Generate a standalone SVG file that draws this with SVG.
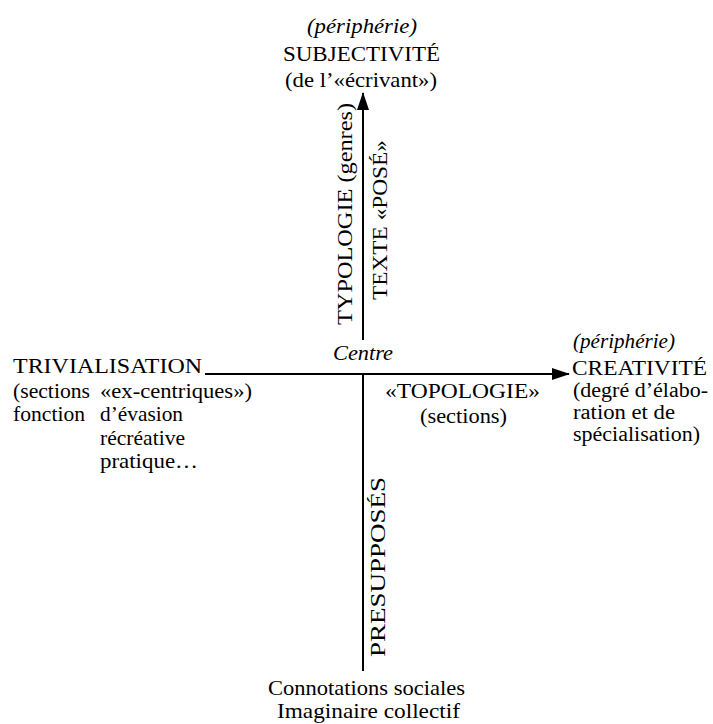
<svg xmlns="http://www.w3.org/2000/svg" width="713" height="724" viewBox="0 0 713 724">
<style>
text { font-family: "Liberation Serif", "DejaVu Serif", serif; font-size: 22px; fill: #000; }
.it { font-style: italic; font-size: 20px; }
.rc { font-size: 20px; }
.ax { stroke: #000; stroke-width: 2; fill: none; }
</style>
<defs>
<marker id="arr" markerUnits="userSpaceOnUse" markerWidth="18" markerHeight="12" refX="17" refY="6" orient="auto">
<path d="M0,0 L18,6 L0,12 z" fill="#000"/>
</marker>
</defs>
<rect width="713" height="724" fill="#fff"/>
<g id="connectors">
<line class="ax" x1="363" y1="340" x2="363" y2="93" marker-end="url(#arr)"/>
<line class="ax" x1="205" y1="374" x2="569" y2="374" marker-end="url(#arr)"/>
<line class="ax" x1="363" y1="374" x2="363" y2="671"/>
</g>
<g id="node-subjectivite">
<text class="it" x="307" y="33" textLength="110" lengthAdjust="spacingAndGlyphs">(périphérie)</text>
<text x="283" y="61" textLength="157" lengthAdjust="spacingAndGlyphs">SUBJECTIVITÉ</text>
<text x="285" y="87" textLength="152" lengthAdjust="spacingAndGlyphs">(de l’«écrivant»)</text>
</g>
<g id="label-typologie">
<text transform="translate(352,325) rotate(-90)" font-size="21" textLength="222" lengthAdjust="spacingAndGlyphs">TYPOLOGIE (genres)</text>
</g>
<g id="label-texte-pose">
<text transform="translate(387,300) rotate(-90)" font-size="21" textLength="160" lengthAdjust="spacingAndGlyphs">TEXTE «POSÉ»</text>
</g>
<g id="node-centre">
<text class="it" x="333" y="360" textLength="60" lengthAdjust="spacingAndGlyphs">Centre</text>
</g>
<g id="node-trivialisation">
<text x="13" y="373" font-size="23" textLength="189" lengthAdjust="spacingAndGlyphs">TRIVIALISATION</text>
<text x="13" y="398" textLength="77" lengthAdjust="spacingAndGlyphs">(sections</text>
<text x="100" y="398" textLength="152" lengthAdjust="spacingAndGlyphs">«ex-centriques»)</text>
<text x="13" y="421" textLength="72" lengthAdjust="spacingAndGlyphs">fonction</text>
<text x="100" y="421" textLength="83" lengthAdjust="spacingAndGlyphs">d’évasion</text>
<text x="100" y="445" textLength="85" lengthAdjust="spacingAndGlyphs">récréative</text>
<text x="100" y="468" textLength="98" lengthAdjust="spacingAndGlyphs">pratique…</text>
</g>
<g id="label-topologie">
<text x="385" y="398" textLength="155" lengthAdjust="spacingAndGlyphs">«TOPOLOGIE»</text>
<text x="420" y="423" textLength="87" lengthAdjust="spacingAndGlyphs">(sections)</text>
</g>
<g id="node-creativite">
<text class="it" x="573" y="348" textLength="102" lengthAdjust="spacingAndGlyphs">(périphérie)</text>
<text class="rc" x="572" y="375" textLength="135" lengthAdjust="spacingAndGlyphs">CREATIVITÉ</text>
<text class="rc" x="573" y="397" textLength="135" lengthAdjust="spacingAndGlyphs">(degré d’élabo-</text>
<text class="rc" x="573" y="419" textLength="102" lengthAdjust="spacingAndGlyphs">ration et de</text>
<text class="rc" x="573" y="441" textLength="127" lengthAdjust="spacingAndGlyphs">spécialisation)</text>
</g>
<g id="label-presupposes">
<text transform="translate(385,657) rotate(-90)" font-size="20" textLength="180" lengthAdjust="spacingAndGlyphs">PRESUPPOSÉS</text>
</g>
<g id="node-connotations">
<text x="268" y="695" textLength="197" lengthAdjust="spacingAndGlyphs">Connotations sociales</text>
<text x="277" y="718" textLength="183" lengthAdjust="spacingAndGlyphs">Imaginaire collectif</text>
</g>
</svg>
